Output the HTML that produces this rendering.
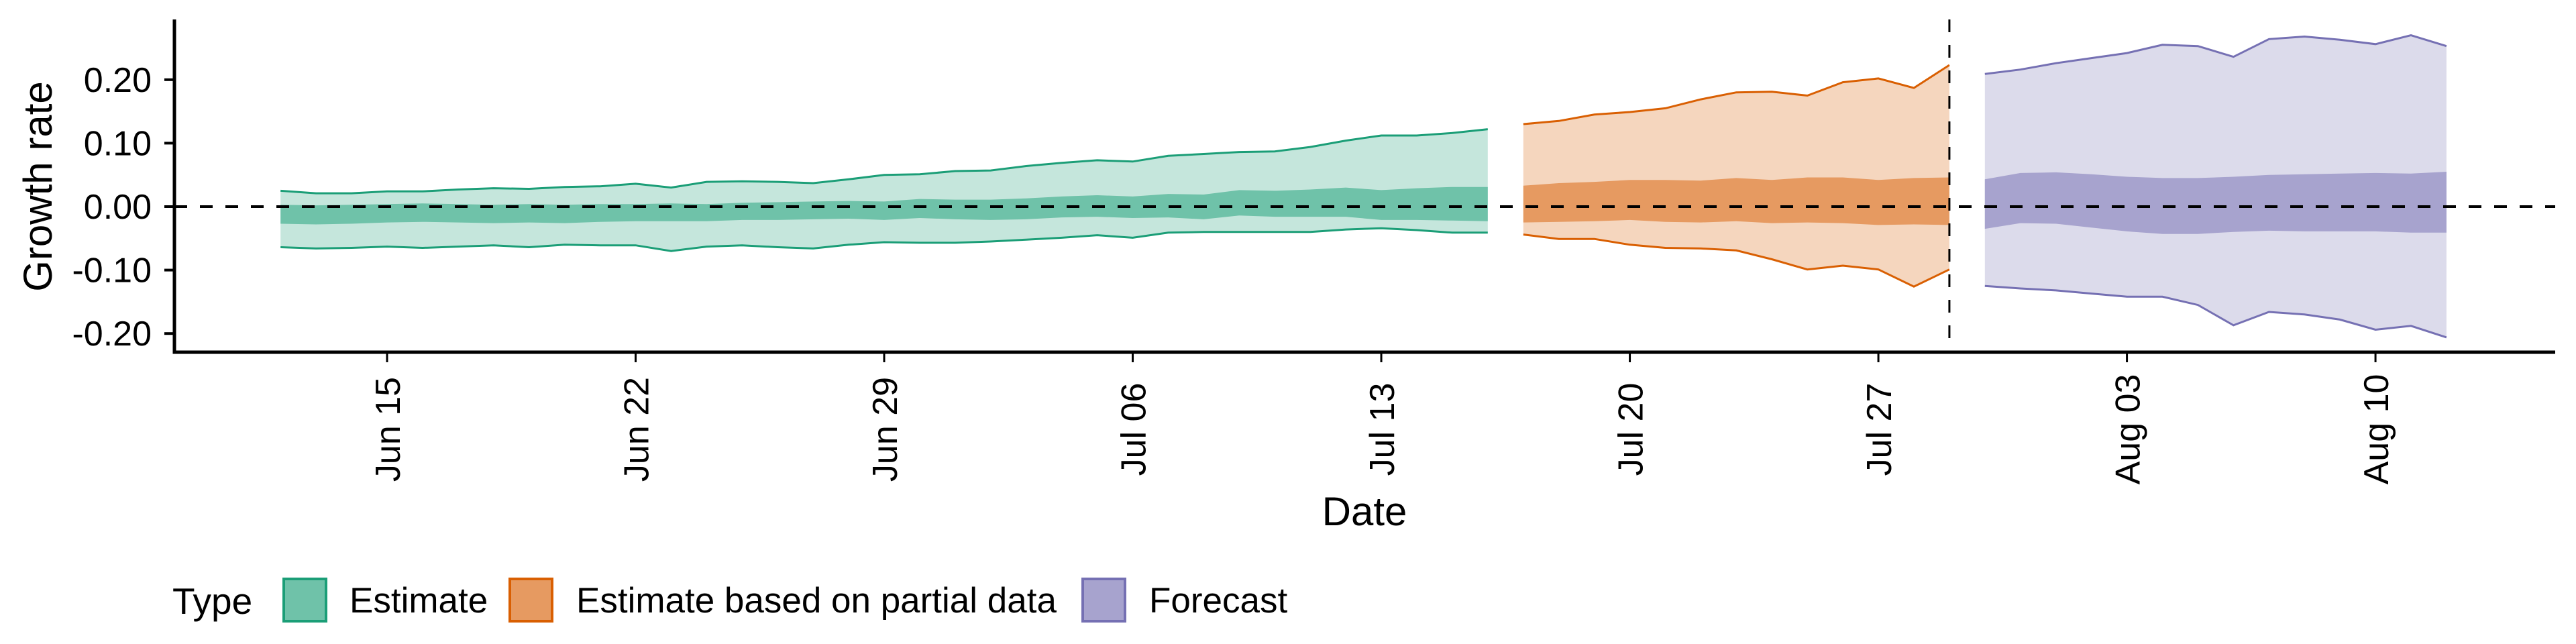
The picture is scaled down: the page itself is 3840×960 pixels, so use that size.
<!DOCTYPE html>
<html><head><meta charset="utf-8"><style>
html,body{margin:0;padding:0;background:#fff;}
svg{display:block;font-family:"Liberation Sans",sans-serif;}
</style></head><body>
<svg id="chart" width="3840" height="960" viewBox="0 0 3840 960" xmlns="http://www.w3.org/2000/svg">
<g id="bands"></g>
<g id="axes"></g>
<g id="legend"></g>
</svg>
<script>
// ---- data ----
const estStart = "2020-06-12";
const estUpper = [0.025,0.021,0.021,0.024,0.024,0.027,0.029,0.028,0.031,0.032,0.036,0.030,0.039,0.040,0.039,0.037,0.043,0.050,0.051,0.056,0.057,0.064,0.069,0.073,0.071,0.080,0.083,0.086,0.087,0.094,0.104,0.112,0.112,0.116,0.122];
const estLower = [-0.064,-0.066,-0.065,-0.063,-0.065,-0.063,-0.061,-0.064,-0.060,-0.061,-0.061,-0.070,-0.063,-0.061,-0.064,-0.066,-0.060,-0.056,-0.057,-0.057,-0.055,-0.052,-0.049,-0.045,-0.049,-0.041,-0.040,-0.040,-0.040,-0.040,-0.036,-0.034,-0.037,-0.041,-0.041];
const estInnerUpper = [0.003,0.002,0.003,0.004,0.005,0.004,0.003,0.004,0.003,0.004,0.004,0.005,0.004,0.006,0.007,0.008,0.009,0.008,0.012,0.011,0.011,0.013,0.016,0.018,0.016,0.020,0.019,0.026,0.025,0.027,0.030,0.026,0.029,0.031,0.031];
const estInnerLower = [-0.027,-0.028,-0.027,-0.025,-0.024,-0.025,-0.026,-0.025,-0.026,-0.024,-0.023,-0.023,-0.023,-0.021,-0.021,-0.020,-0.019,-0.021,-0.018,-0.020,-0.021,-0.020,-0.017,-0.016,-0.018,-0.017,-0.020,-0.014,-0.016,-0.016,-0.016,-0.021,-0.021,-0.022,-0.023];
const partStart = "2020-07-17";
const partUpper = [0.130,0.135,0.145,0.149,0.155,0.169,0.180,0.181,0.175,0.196,0.202,0.187,0.223];
const partLower = [-0.044,-0.051,-0.051,-0.060,-0.065,-0.066,-0.069,-0.083,-0.099,-0.093,-0.099,-0.126,-0.099];
const partInnerUpper = [0.033,0.037,0.039,0.042,0.042,0.041,0.045,0.042,0.046,0.046,0.042,0.045,0.046];
const partInnerLower = [-0.025,-0.024,-0.023,-0.021,-0.024,-0.025,-0.023,-0.026,-0.025,-0.026,-0.029,-0.028,-0.029];
const fcStart = "2020-07-30";
const fcUpper = [0.209,0.216,0.226,0.234,0.242,0.255,0.253,0.236,0.264,0.268,0.263,0.256,0.270,0.253];
const fcLower = [-0.125,-0.129,-0.132,-0.137,-0.142,-0.142,-0.155,-0.187,-0.166,-0.170,-0.178,-0.194,-0.188,-0.206];
const fcInnerUpper = [0.043,0.053,0.054,0.051,0.047,0.045,0.045,0.047,0.050,0.051,0.052,0.053,0.052,0.055];
const fcInnerLower = [-0.035,-0.026,-0.027,-0.033,-0.039,-0.043,-0.043,-0.040,-0.038,-0.039,-0.039,-0.039,-0.041,-0.041];
const yTicks = [-0.20,-0.10,0.00,0.10,0.20];
const yTickLabels = ["-0.20","-0.10","0.00","0.10","0.20"];
const xTickDates = ["2020-06-15","2020-06-22","2020-06-29","2020-07-06","2020-07-13","2020-07-20","2020-07-27","2020-08-03","2020-08-10"];
const xTickLabels = ["Jun 15","Jun 22","Jun 29","Jul 06","Jul 13","Jul 20","Jul 27","Aug 03","Aug 10"];
const forecastDate = "2020-07-29";
const legendLabels = ["Estimate","Estimate based on partial data","Forecast"];

// ---- scales ----
const NS="http://www.w3.org/2000/svg";
const DAY=86400000;
const x0=Date.parse("2020-06-15"), xPx0=577, pxPerDay=52.93;
function xs(d){ return xPx0 + (Date.parse(d)-x0)/DAY*pxPerDay; }
function xi(start,i){ return xs(start)+i*pxPerDay; }
const yZero=308, pxPerUnit=946;
function ys(v){ return yZero - v*pxPerUnit; }
const L=260, R=3809, T=29, B=525;

function mk(tag,attrs,parent){ const e=document.createElementNS(NS,tag); for(const k in attrs) e.setAttribute(k,attrs[k]); parent.appendChild(e); return e; }
const bands=document.getElementById('bands'), axes=document.getElementById('axes'), legend=document.getElementById('legend');

function area(start,up,lo){
  let p="";
  up.forEach((v,i)=>{p+=(i?"L":"M")+xi(start,i).toFixed(1)+","+ys(v).toFixed(1);});
  for(let i=lo.length-1;i>=0;i--) p+="L"+xi(start,i).toFixed(1)+","+ys(lo[i]).toFixed(1);
  return p+"Z";
}
function line(start,vals){ return vals.map((v,i)=>(i?"L":"M")+xi(start,i).toFixed(1)+","+ys(v).toFixed(1)).join(""); }

const series=[
 {name:"estimate",start:estStart,u:estUpper,l:estLower,iu:estInnerUpper,il:estInnerLower,light:"#c5e6dc",mid:"#6fc2a9",col:"#1b9e77"},
 {name:"partial",start:partStart,u:partUpper,l:partLower,iu:partInnerUpper,il:partInnerLower,light:"#f5d6be",mid:"#e69a61",col:"#d95f02"},
 {name:"forecast",start:fcStart,u:fcUpper,l:fcLower,iu:fcInnerUpper,il:fcInnerLower,light:"#dcdbeb",mid:"#a7a3ce",col:"#7570b3"}
];
series.forEach(s=>{
  const o=mk('path',{d:area(s.start,s.u,s.l),fill:s.light},bands);
  
  
  const m=mk('path',{d:area(s.start,s.iu,s.il),fill:s.mid},bands);
  
  
  const a=mk('path',{d:line(s.start,s.u),fill:"none",stroke:s.col,"stroke-width":3},bands);
  
  
  const b=mk('path',{d:line(s.start,s.l),fill:"none",stroke:s.col,"stroke-width":3},bands);
  
  
});

// reference lines
const zl=mk('line',{x1:L,x2:R,y1:ys(0),y2:ys(0),stroke:"#000","stroke-width":4,"stroke-dasharray":"19 19"},axes);


const fx=xs(forecastDate);
const vl=mk('line',{x1:fx,x2:fx,y1:T,y2:B,stroke:"#000","stroke-width":3,"stroke-dasharray":"19 19"},axes);



// axes
const ya=mk('line',{x1:L,x2:L,y1:T,y2:B+2.5,stroke:"#000","stroke-width":5},axes);


const xa=mk('line',{x1:L-2.5,x2:R,y1:B,y2:B,stroke:"#000","stroke-width":5},axes);


yTicks.forEach((v,i)=>{
  const t=mk('line',{x1:L-15,x2:L,y1:ys(v),y2:ys(v),stroke:"#000","stroke-width":4},axes);
  
  
  const tx=mk('text',{x:226,y:ys(v)+18,"text-anchor":"end","font-size":52,fill:"#000"},axes);
  tx.textContent=yTickLabels[i];
  
  
});
xTickDates.forEach((d,i)=>{
  const x=xs(d);
  const t=mk('line',{x1:x,x2:x,y1:B,y2:B+15,stroke:"#000","stroke-width":3},axes);
  
  
  const tx=mk('text',{x:0,y:0,"text-anchor":"middle","font-size":52,fill:"#000",transform:`translate(${(x+19).toFixed(1)},640) rotate(-90)`},axes);
  tx.textContent=xTickLabels[i];
  
  
});
const xt=mk('text',{x:2034,y:783,"text-anchor":"middle","font-size":60,fill:"#000"},axes);
xt.textContent="Date";


const yt=mk('text',{x:0,y:0,"text-anchor":"middle","font-size":60,fill:"#000",transform:"translate(77,278) rotate(-90)"},axes);
yt.textContent="Growth rate";



// legend
const lt=mk('text',{x:257,y:915,"font-size":55,fill:"#000"},legend);
lt.textContent="Type";


const keyX=[421,758,1612], txtX=[521,859,1713];
legendLabels.forEach((lab,i)=>{
  const s=series[i];
  const r=mk('rect',{x:keyX[i]+2,y:863,width:63,height:63,fill:s.mid,stroke:s.col,"stroke-width":4},legend);
  
  
  const t=mk('text',{x:txtX[i],y:913,"font-size":53,fill:"#000"},legend);
  t.textContent=lab;
  
  
});
</script>
</body></html>
